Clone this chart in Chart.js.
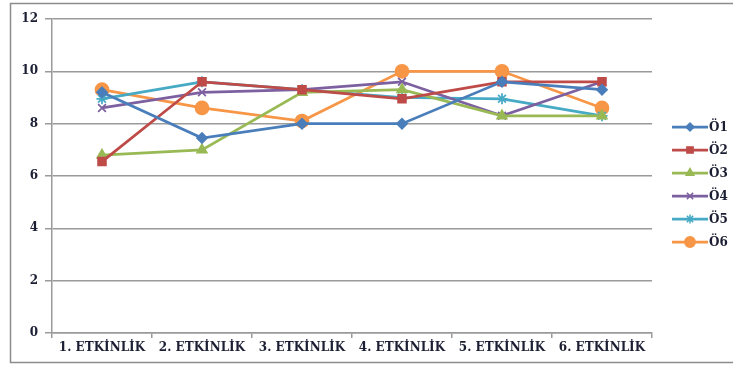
<!DOCTYPE html>
<html>
<head>
<meta charset="utf-8">
<script src="https://cdn.jsdelivr.net/npm/chart.js@4/dist/chart.umd.min.js"></script>
<style>
    html, body { margin: 0; padding: 0; background: #fff; }
    #wrap { width: 733px; height: 365px; }
</style>
</head>
<body>
<div id="wrap"><canvas id="lineChart" width="733" height="365"></canvas></div>
<script>
const categories = ['1. ETKİNLİK', '2. ETKİNLİK', '3. ETKİNLİK', '4. ETKİNLİK', '5. ETKİNLİK', '6. ETKİNLİK'];
const seriesNames = ['Ö1', 'Ö2', 'Ö3', 'Ö4', 'Ö5', 'Ö6'];
const o1 = [9.2, 7.45, 8.0, 8.0, 9.6, 9.3];
const o2 = [6.55, 9.6, 9.3, 8.95, 9.6, 9.6];
const o3 = [6.8, 7.0, 9.2, 9.3, 8.3, 8.3];
const o4 = [8.6, 9.2, 9.3, 9.6, 8.3, 9.6];
const o5 = [8.95, 9.6, 9.3, 9.0, 8.95, 8.3];
const o6 = [9.3, 8.6, 8.1, 10.0, 10.0, 8.6];
const yTicks = [0, 2, 4, 6, 8, 10, 12];

const colors = ['#4a7ebb', '#be4b48', '#98b954', '#7d60a0', '#46aac5', '#f79646'];
const styles = ['rectRot', 'rect', 'triangle', 'crossRot', 'star', 'circle'];
const radii = [5, 5.5, 5.5, 5.5, 5.5, 6.5];
const values = [o1, o2, o3, o4, o5, o6];

const serif = "'DejaVu Serif', 'Liberation Serif', serif";
const textColor = '#1c1f33';

// grey frame round the whole chart
const frame = {
    id: 'frame',
    beforeDraw(chart) {
        const c = chart.ctx;
        c.save();
        c.fillStyle = '#fff';
        c.fillRect(0, 0, chart.width, chart.height);
        c.strokeStyle = '#8c8c8c';
        c.lineWidth = 1.5;
        c.strokeRect(10.5, 3.5, 740, 359);
        c.restore();
    }
};

// legend drawn as line + marker like the original
const sideLegend = {
    id: 'sideLegend',
    afterDraw(chart) {
        const c = chart.ctx;
        c.save();
        chart.data.datasets.forEach((ds, i) => {
            const y = 127 + i * 23;
            c.strokeStyle = ds.borderColor;
            c.lineWidth = 2.75;
            c.beginPath();
            c.moveTo(672, y);
            c.lineTo(708, y);
            c.stroke();
            c.fillStyle = ds.pointBackgroundColor;
            c.strokeStyle = ds.pointBorderColor;
            c.lineWidth = 1.5;
            Chart.helpers.drawPoint(c, {
                pointStyle: ds.pointStyle,
                radius: ds.pointRadius * 0.8,
                rotation: 0,
                borderWidth: 1.5
            }, 690, y);
            c.fillStyle = textColor;
            c.font = 'bold 12px ' + serif;
            c.textBaseline = 'middle';
            c.fillText(ds.label, 709, y + 1);
        });
        c.restore();
    }
};

const ctx = document.getElementById('lineChart').getContext('2d');
const myChart = new Chart(ctx, {
    type: 'line',
    data: {
        labels: categories,
        datasets: seriesNames.map((name, i) => ({
            label: name,
            data: values[i],
            borderColor: colors[i],
            backgroundColor: colors[i],
            pointBackgroundColor: colors[i],
            pointBorderColor: colors[i],
            pointStyle: styles[i],
            pointRadius: radii[i],
            pointBorderWidth: 1.75,
            borderWidth: 2.75,
            tension: 0,
            fill: false
        }))
    },
    options: {
        responsive: false,
        animation: false,
        layout: {
            padding: { left: 0, right: 81, top: 19, bottom: 0 }
        },
        plugins: {
            legend: { display: false },
            tooltip: { enabled: false }
        },
        scales: {
            x: {
                offset: true,
                grid: {
                    offset: true,
                    drawOnChartArea: false,
                    drawTicks: true,
                    tickLength: 5,
                    color: '#9a9a9a',
                    lineWidth: 1.5
                },
                border: { display: true, color: '#9a9a9a', width: 1.5 },
                ticks: {
                    color: textColor,
                    font: { family: serif, size: 12, weight: 'bold' },
                    padding: 3,
                    maxRotation: 0,
                    autoSkip: false
                },
                afterFit(scale) { scale.height = 32; }
            },
            y: {
                min: 0,
                max: 12,
                afterBuildTicks(scale) {
                    scale.ticks = yTicks.map(v => ({ value: v }));
                },
                grid: {
                    color: '#9a9a9a',
                    lineWidth: 1.5,
                    tickLength: 7
                },
                border: { display: true, color: '#9a9a9a', width: 1.5 },
                ticks: {
                    color: textColor,
                    font: { family: serif, size: 12, weight: 'bold' },
                    padding: 7
                },
                afterFit(scale) { scale.width = 52; }
            }
        }
    },
    plugins: [frame, sideLegend]
});
</script>
</body>
</html>
